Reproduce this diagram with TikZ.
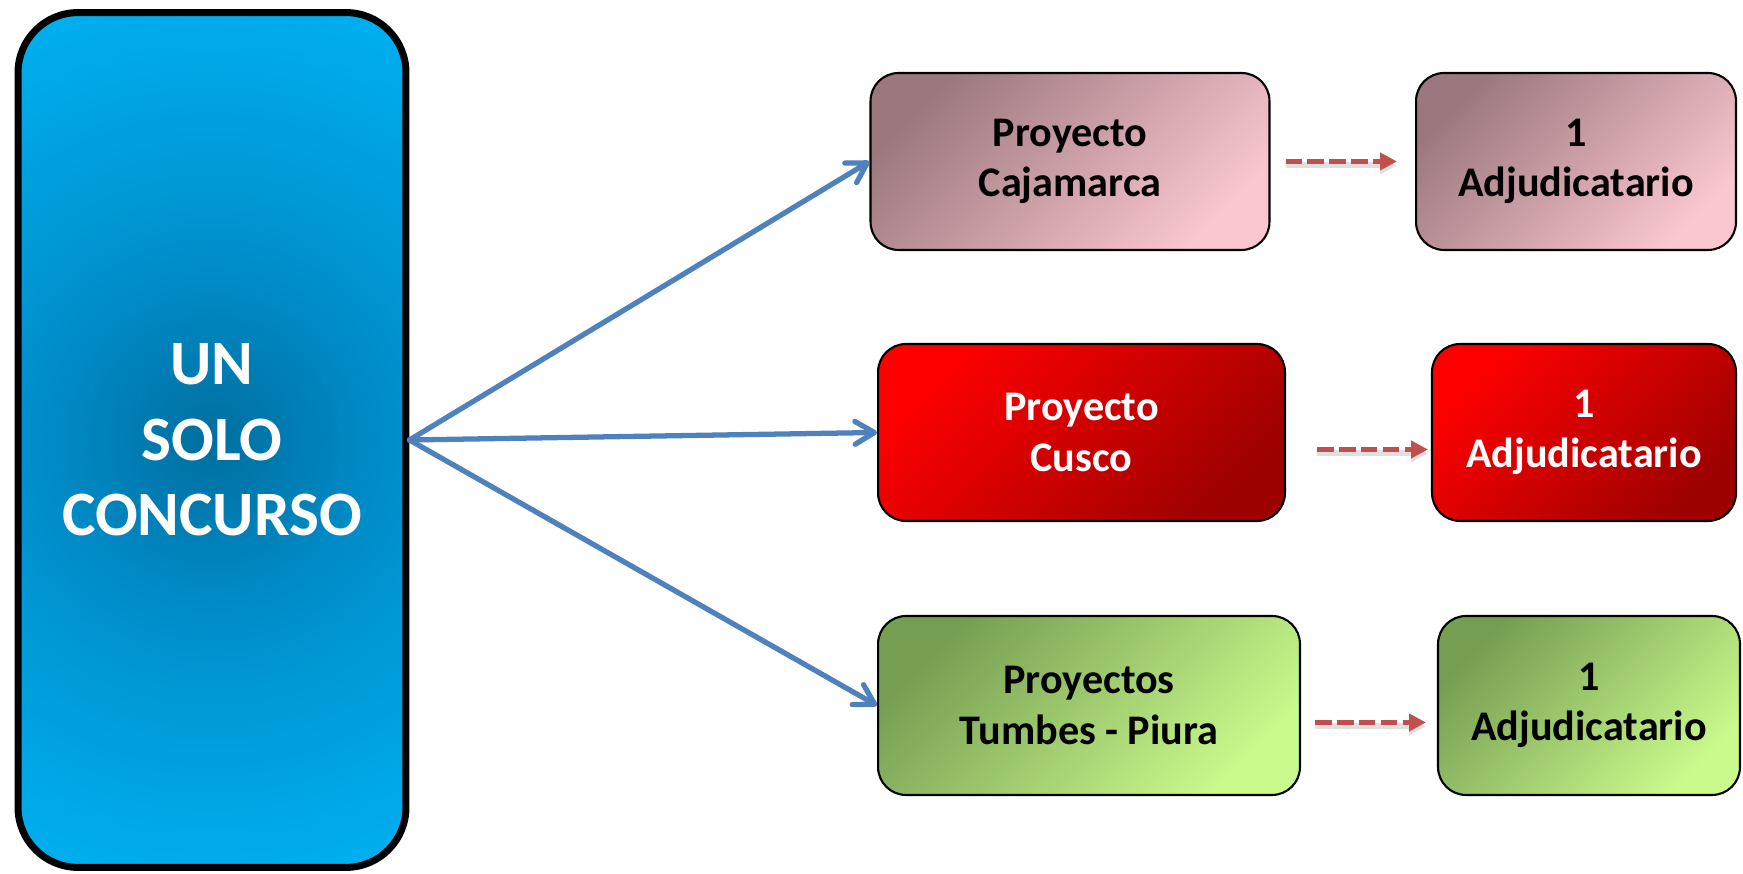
\documentclass[tikz,border=0pt]{standalone}
\usepackage{fontspec}
\setmainfont{Carlito}
\usetikzlibrary{arrows.meta}

\definecolor{glowin}{RGB}{0,110,160}
\definecolor{glowmid}{RGB}{0,140,200}
\definecolor{glowside}{RGB}{0,152,214}
\definecolor{glowout}{RGB}{0,178,242}
\definecolor{cajdark}{RGB}{156,120,126}
\definecolor{cajlight}{RGB}{250,198,207}
\definecolor{cusbright}{RGB}{255,0,0}
\definecolor{cusdark}{RGB}{158,0,0}
\definecolor{tumdark}{RGB}{118,158,82}
\definecolor{tumlight}{RGB}{202,250,140}
\definecolor{arrowblue}{RGB}{79,129,189}
\definecolor{dashred}{RGB}{192,80,77}

\pgfdeclareradialshading{concglow}{\pgfpoint{0bp}{0bp}}{color(0bp)=(glowin); color(7bp)=(glowmid); color(10.5bp)=(glowside); color(20bp)=(glowout); color(50bp)=(glowout)}

\begin{document}
\begin{tikzpicture}[x=0.02cm, y=0.02cm,
					big_box/.style = {draw=black, line width=4pt, rounded corners=1.2cm, fill=glowout,
						path picture={\shade[shading=concglow] (path picture bounding box.center) circle (12cm);},
						minimum width=7.76cm, minimum height=17.1cm, align=center, text=white,
						font=\fontsize{36}{43}\selectfont\bfseries},
					small_box/.style = {draw=black, line width=1.2pt, rounded corners=0.56cm, minimum height=3.54cm,
						align=center, font=\fontsize{24}{28.5}\selectfont\bfseries},
					caj_fill/.style = {top color=cajdark, bottom color=cajlight, shading angle=45},
					cus_fill/.style = {top color=cusbright, bottom color=cusdark, shading angle=45, text=white},
					tum_fill/.style = {top color=tumdark, bottom color=tumlight, shading angle=45},
					blue_arrow/.style = {arrowblue, line width=3pt, line cap=round,
						-{Straight Barb[length=11pt, width=13pt, round]}},
					red_dash/.style = {dashred, line width=2.8pt, dash pattern=on 9.4pt off 3.1pt,
						-{Triangle[length=9.6pt, width=9.6pt]},
						preaction={draw=black!12, line width=3.4pt, transform canvas={yshift=-2.2pt}}}
				]

				\useasboundingbox (0,0) rectangle (1743,874);

				\node[big_box] (concurso) at (212,434) {UN\\ SOLO\\ CONCURSO};

				\node[small_box, caj_fill, minimum width=7.98cm] (cajamarca) at (1070,712.5) {Proyecto\\ Cajamarca};
				\node[small_box, caj_fill, minimum width=6.4cm] (adjcaj) at (1576,712.5) {1\\ Adjudicatario};

				\node[small_box, cus_fill, minimum width=8.14cm] (cusco) at (1081.5,441.5) {Proyecto\\ Cusco};
				\node[small_box, cus_fill, minimum width=6.08cm] (adjcus) at (1584,441.5) {1\\ Adjudicatario};

				\node[small_box, tum_fill, minimum width=8.44cm, minimum height=3.58cm] (tumbes) at (1089,168.5) {Proyectos\\ Tumbes - Piura};
				\node[small_box, tum_fill, minimum width=6.04cm, minimum height=3.58cm] (adjtum) at (1589,168.5) {1\\ Adjudicatario};

				\draw[blue_arrow] (concurso.east) -- (cajamarca.west);
				\draw[blue_arrow] (concurso.east) -- (cusco.west);
				\draw[blue_arrow] (concurso.east) -- (tumbes.west);

				\draw[red_dash, shorten <=0.3cm, shorten >=0.36cm] (cajamarca.east) -- (adjcaj.west);
				\draw[red_dash, shorten <=0.62cm, shorten >=0.06cm] ([yshift=-0.34cm]cusco.east) -- ([yshift=-0.34cm]adjcus.west);
				\draw[red_dash, shorten <=0.28cm, shorten >=0.22cm] ([yshift=-0.34cm]tumbes.east) -- ([yshift=-0.34cm]adjtum.west);
			\end{tikzpicture}
\end{document}
